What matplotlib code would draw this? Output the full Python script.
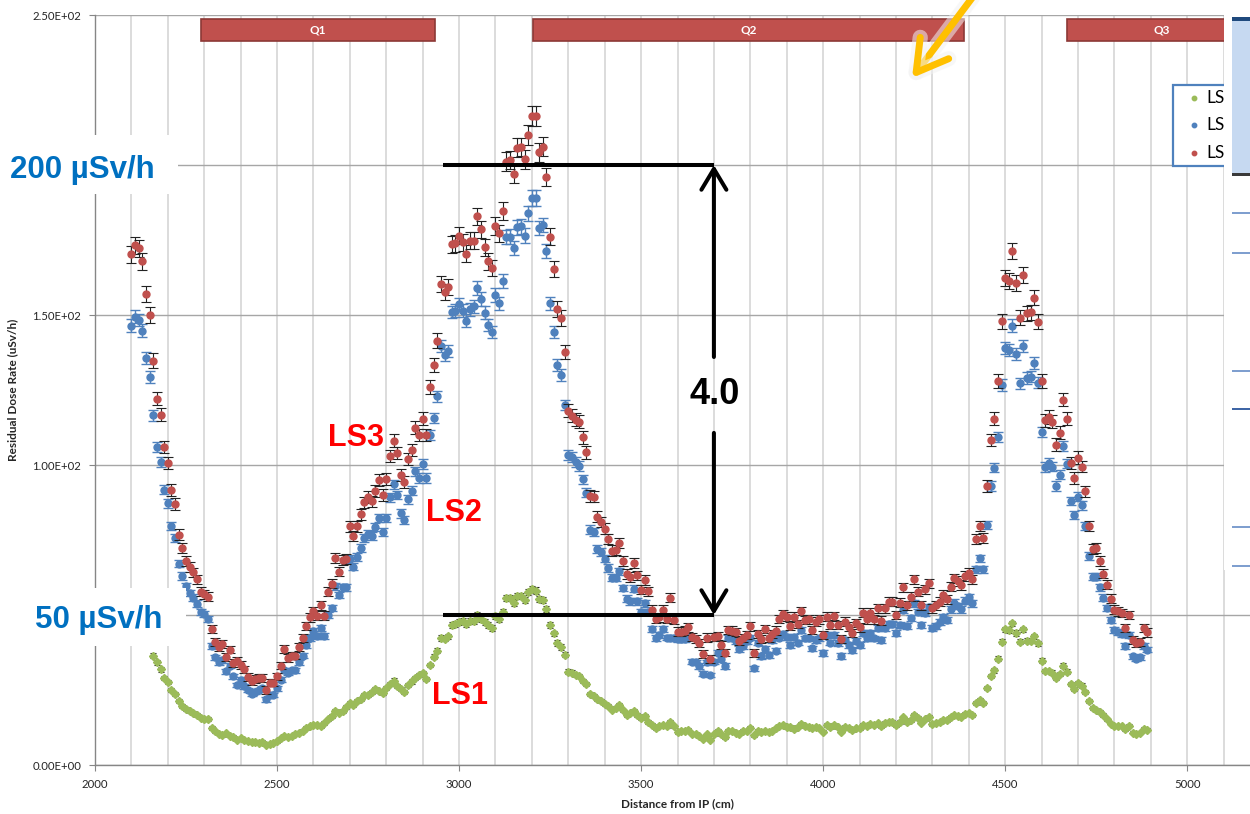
import matplotlib
matplotlib.use("Agg")
import matplotlib.pyplot as plt
from matplotlib.patches import Rectangle
from matplotlib.lines import Line2D
import matplotlib.patheffects as pe

# ---------------------------------------------------------------- data
# Residual dose rate (uSv/h) measured along the beam line, 10 cm steps
LS23_DISTANCE = list(range(2100, 4900, 10))   # cm from IP
LS1_DISTANCE = list(range(2160, 4900, 10))

LS1_DOSE = [
    36.5, 34.2, 31.9, 29.0, 27.6, 25.0, 23.8, 21.2, 19.8, 18.7, 18.1, 17.3, 16.6, 15.8, 15.4, 15.4,
    12.3, 11.2, 10.4, 10.0, 10.6, 9.7, 9.4, 8.5, 8.9, 8.3, 7.9, 7.7, 7.7, 7.5, 7.7, 6.8, 7.1, 7.4,
    7.9, 8.9, 9.8, 9.4, 9.8, 10.4, 10.8, 11.5, 12.3, 12.9, 13.4, 13.4, 12.9, 14.0, 15.2, 16.4, 18.1,
    17.5, 18.1,
    19.3, 20.7, 20.0, 21.4, 22.1, 23.3, 23.3, 24.3, 25.3, 24.7, 23.9, 25.7, 27.1, 28.1, 26.4, 25.3,
    24.3, 26.7, 27.9, 29.0, 30.0, 30.7, 28.6, 33.3, 36.1, 38.1, 42.4, 42.1, 42.9, 46.7, 47.1, 47.6,
    47.9, 47.1, 48.1, 48.1, 50.0, 48.6, 47.6, 46.7, 45.7, 49.6, 48.6, 51.1, 55.7, 55.7, 53.9, 56.4,
    56.4, 55.0, 57.6, 58.6, 58.1, 55.3, 55.0, 52.1, 46.7, 43.9, 40.7, 39.3, 36.7,
    31.1, 30.8, 30.0, 29.7, 28.0, 27.1, 23.6, 23.0, 21.9, 21.3, 20.2, 19.6, 18.5, 19.1, 20.0, 18.2,
    16.6, 17.4, 18.0, 16.6, 15.7, 16.3, 14.4, 13.5, 12.2, 12.9, 13.5, 12.9, 14.4, 12.9, 11.0, 11.3,
    11.5, 11.8, 10.4, 10.2, 9.6, 8.8, 10.2, 8.5, 10.2, 11.3, 10.2, 9.3, 11.5, 11.3, 10.7, 10.4,
    11.3, 11.5, 12.4, 9.9, 11.3, 11.0, 11.5, 11.0, 11.5, 12.2, 12.9, 13.5,
    12.6, 12.8, 11.9, 12.8, 13.7, 13.0, 12.6, 12.2, 12.8, 12.2, 11.1, 13.3, 12.6, 13.3, 12.6, 11.1,
    12.8, 12.2, 11.7, 12.2, 12.2, 13.3, 13.0, 13.7, 13.3, 13.9, 13.0, 14.1, 14.4, 14.4, 13.3, 14.4,
    15.9, 14.4, 15.0, 16.7, 15.6, 14.1, 15.2, 16.1, 13.7, 14.1, 14.4, 15.0, 15.0, 16.1, 16.7, 16.3,
    16.1, 17.0, 17.2, 16.7, 20.8, 21.7, 20.8,
    25.6, 29.6, 31.6, 35.4, 41.1, 45.2, 44.9, 47.2, 44.0, 41.1, 45.2, 41.5, 41.5, 42.9, 40.6, 34.8,
    31.3, 31.3, 30.8, 29.0, 30.4, 33.1, 31.1, 27.0, 25.3, 27.3, 26.5, 24.4, 21.2, 18.9, 18.4, 17.7,
    16.6, 15.2, 13.8, 13.1, 12.9, 12.9, 12.0, 13.1, 10.8, 10.4, 10.8, 12.0, 11.8,
]

LS2_DOSE = [
    146.5, 149.4, 148.3, 144.8, 135.6, 129.3, 116.6, 106.0, 101.0, 91.8, 87.2, 79.7, 75.7, 67.1,
    63.0, 59.6, 57.3, 55.8, 53.8, 50.9, 50.3, 48.6, 39.6, 35.9, 34.2, 35.0, 31.3, 33.1, 29.6, 26.7,
    28.5, 26.2, 25.0, 23.8, 24.4, 25.0, 25.6, 21.9, 23.3, 23.3, 25.6, 28.5, 31.6, 30.8, 31.6, 31.6,
    34.2, 36.5, 40.0, 42.3, 44.6, 42.9, 45.7, 42.9, 50.0, 52.3, 59.6, 56.7, 59.2,
    59.3, 68.6, 66.1, 69.3, 72.4, 75.7, 77.1, 76.4, 79.3, 82.4, 77.6, 82.4, 89.3, 93.6, 90.0, 83.9,
    81.7, 88.6, 91.4, 97.9, 95.7, 100.4, 95.7, 110.0, 115.7, 122.9, 139.6, 136.7, 138.1, 151.0,
    151.4, 153.6, 151.4, 148.1, 151.9, 152.9, 159.0, 155.3, 150.7, 146.7, 144.3, 156.7, 153.9,
    161.4, 176.0, 176.1, 172.4, 179.3, 179.6, 176.4, 183.9, 189.0, 189.0, 179.0, 180.0, 171.4,
    153.9, 144.3, 133.3, 130.0, 120.0,
    103.3, 102.6, 101.1, 99.7, 95.2, 90.7, 78.5, 77.7, 72.1, 71.0, 68.8, 65.7, 62.4, 62.4, 64.6,
    59.0, 55.4, 54.6, 58.7, 54.6, 50.9, 53.9, 50.9, 45.3, 42.3, 43.4, 45.3, 42.5, 42.5, 42.3, 42.0,
    42.0, 42.0, 43.1, 34.5, 34.2, 33.0, 30.5, 34.2, 30.0, 34.5, 37.5, 35.3, 33.0, 42.5, 42.3, 41.4,
    38.6, 39.7, 41.4, 42.5, 32.3, 40.8, 36.4, 38.6, 36.7, 41.6, 38.1, 42.5, 43.6,
    42.8, 40.0, 42.8, 40.8, 45.0, 42.2, 42.2, 38.9, 41.7, 42.2, 37.4, 43.3, 40.8, 43.3, 40.6, 36.3,
    41.7, 40.0, 38.3, 41.4, 40.0, 44.1, 42.2, 43.9, 42.2, 45.6, 41.7, 45.6, 47.0, 47.0, 43.9, 46.7,
    51.7, 46.3, 48.9, 53.9, 51.1, 46.7, 50.8, 52.6, 45.6, 46.3, 47.8, 49.2, 48.3, 51.9, 54.1, 53.0,
    51.9, 54.8, 55.9, 53.9, 65.2, 68.9, 65.2,
    80.0, 93.0, 99.1, 109.4, 126.7, 139.1, 138.2, 146.5, 137.1, 127.2, 139.6, 129.0, 129.5, 133.9,
    127.5, 111.1, 99.3, 100.7, 99.5, 93.0, 96.8, 106.2, 100.5, 88.0, 83.4, 89.5, 86.6, 79.7, 69.6,
    62.7, 62.7, 59.2, 55.8, 52.3, 48.4, 45.1, 44.4, 43.8, 39.6, 43.4, 36.2, 35.4, 35.9, 39.6, 38.5,
]

LS3_DOSE = [
    170.2, 173.3, 172.2, 167.9, 157.1, 150.0, 134.8, 122.1, 116.8, 105.9, 100.7, 91.6, 87.0, 76.8,
    72.2, 68.0, 65.9, 64.2, 61.9, 57.8, 56.9, 56.1, 45.4, 41.1, 39.2, 40.3, 35.9, 38.5, 33.9, 34.8,
    33.4, 31.9, 29.3, 27.9, 28.7, 29.0, 29.0, 25.0, 27.5, 27.5, 29.6, 33.1, 38.8, 35.7, 36.5, 36.5,
    39.2, 42.3, 46.3, 49.2, 51.2, 49.8, 53.2, 49.8, 57.8, 60.4, 69.0, 64.5, 68.2,
    68.6, 79.6, 76.4, 79.6, 83.6, 87.6, 89.3, 87.9, 91.4, 95.0, 90.0, 95.3, 102.9, 108.1, 103.9,
    96.7, 94.3, 102.1, 105.0, 112.4, 110.0, 115.4, 110.0, 126.1, 133.3, 141.4, 160.4, 157.6, 159.3,
    173.6, 173.9, 176.4, 174.3, 170.4, 174.7, 174.7, 182.9, 178.6, 172.6, 167.9, 165.7, 179.7,
    177.3, 184.7, 201.1, 201.7, 197.1, 205.7, 206.0, 201.9, 210.0, 216.4, 216.4, 204.3, 206.1,
    196.0, 176.1, 165.3, 152.0, 149.0, 137.6,
    118.1, 116.4, 115.1, 114.5, 109.2, 104.2, 89.7, 89.4, 82.7, 81.0, 78.8, 75.4, 71.5, 71.8, 74.1,
    68.0, 63.7, 62.6, 67.3, 63.2, 58.4, 61.7, 57.9, 51.7, 48.7, 49.2, 51.7, 48.7, 55.7, 48.3, 44.5,
    44.5, 44.8, 45.9, 42.7, 42.0, 40.8, 36.9, 42.5, 35.3, 42.7, 43.1, 40.1, 37.5, 45.1, 44.8, 44.3,
    41.4, 42.3, 43.4, 46.2, 37.2, 43.6, 42.0, 45.3, 42.5, 43.6, 44.8, 48.7, 50.3,
    49.4, 46.3, 49.4, 47.0, 51.3, 48.3, 48.6, 45.0, 47.8, 48.6, 43.3, 49.4, 46.7, 49.7, 46.7, 41.9,
    47.8, 46.1, 43.9, 47.4, 45.9, 50.8, 48.6, 50.8, 48.6, 52.2, 48.1, 52.2, 54.4, 54.4, 50.0, 54.1,
    59.2, 53.3, 56.1, 61.9, 57.8, 53.3, 58.6, 60.6, 52.2, 53.3, 54.4, 56.7, 55.2, 59.4, 62.2, 61.4,
    60.0, 63.0, 64.1, 61.9, 75.3, 79.7, 75.6,
    93.0, 108.3, 115.4, 127.9, 147.9, 162.4, 161.3, 171.3, 160.6, 149.1, 163.2, 150.6, 150.9,
    155.8, 147.7, 128.1, 114.9, 116.0, 114.5, 106.8, 110.8, 121.8, 115.4, 100.7, 95.6, 102.5, 99.5,
    91.2, 79.7, 71.9, 72.2, 68.0, 63.8, 60.1, 55.5, 51.8, 51.2, 50.7, 45.7, 50.0, 41.7, 40.6, 41.1,
    45.7, 44.2,
]

# statistical uncertainty: constant part (uSv/h) + relative part
UNC_CONST = {"LS1": 0.4, "LS2": 0.5, "LS3": 0.9}
UNC_REL = {"LS1": 0.012, "LS2": 0.011, "LS3": 0.011}

SERIES_NAMES = ["LS1", "LS2", "LS3"]

# quadrupole positions along the line
MAGNETS = ["Q1", "Q2", "Q3"]
MAGNET_START = [2291, 3203, 4670]
MAGNET_END = [2934, 4387, 5192]

X_TICKS = [2000, 2500, 3000, 3500, 4000, 4500, 5000]
Y_TICKS = [0, 50, 100, 150, 200, 250]

LEVEL_HIGH = 200     # uSv/h
LEVEL_LOW = 50       # uSv/h
LEVEL_SPAN = (2956, 3700)

# ---------------------------------------------------------------- style
GREEN, BLUE, RED = "#9bbb59", "#4f81bd", "#c0504d"
W, H = 1250, 814

plt.rcParams["font.family"] = ["Lato", "DejaVu Sans"]

fig = plt.figure(figsize=(W / 100, H / 100), dpi=100)
fig.patch.set_facecolor("white")


def fx(px):
    return px / W


def fy(py):
    return 1 - py / H


def px_rect(x0, y0, x1, y1, **kw):
    r = Rectangle((fx(x0), fy(y1)), (x1 - x0) / W, (y1 - y0) / H,
                  transform=fig.transFigure, **kw)
    fig.add_artist(r)
    return r


# axes: 2000..5200 cm maps to 95..1260 px, 0..250 maps to 765..15 px
ax = fig.add_axes([fx(95), fy(765), (1260 - 95) / W, 750 / H])
ax.set_xlim(2000, 5200)
ax.set_ylim(0, 250)

ax.set_xticks(X_TICKS)
ax.set_xticks(list(range(2100, 5200, 100)), minor=True)
ax.set_yticks(Y_TICKS)
# the 50 and 200 levels carry their own callouts instead of tick labels
ax.set_yticklabels(["" if v in (LEVEL_HIGH, LEVEL_LOW) else "%.2E" % v
                    for v in Y_TICKS])
ax.tick_params(axis="both", which="major", direction="out", length=4,
               width=0.8, color="#868686", labelsize=8.2, pad=6,
               labelcolor="#262626")
ax.tick_params(which="minor", length=0)

ax.xaxis.grid(True, which="both", color="#d9d9d9", lw=1.3, zorder=0)
ax.yaxis.grid(True, which="major", color="#a6a6a6", lw=1.0, zorder=0)
ax.set_axisbelow(True)
for s in ("top", "right"):
    ax.spines[s].set_visible(False)
for s in ("left", "bottom"):
    ax.spines[s].set_color("#868686")
    ax.spines[s].set_linewidth(1.0)

ax.set_xlabel("Distance from IP (cm)", fontsize=8.5, fontweight="bold",
              labelpad=6, color="#262626")
ax.set_ylabel("Residual Dose Rate (uSv/h)", fontsize=8.5, fontweight="bold",
              labelpad=10, color="#262626")


def unc(name, values):
    return [UNC_CONST[name] + UNC_REL[name] * v for v in values]


ax.errorbar(LS1_DISTANCE, LS1_DOSE, yerr=unc("LS1", LS1_DOSE), fmt="D",
            ms=4.2, color=GREEN, mec=GREEN, ecolor="#222222", elinewidth=0.8,
            capsize=2.5, capthick=0.8, zorder=3)
ax.errorbar(LS23_DISTANCE, LS2_DOSE, yerr=unc("LS2", LS2_DOSE), fmt="o",
            ms=5, color=BLUE, mec=BLUE, ecolor=BLUE, elinewidth=1.0,
            capsize=3.5, capthick=1.0, zorder=4)
ax.errorbar(LS23_DISTANCE, LS3_DOSE, yerr=unc("LS3", LS3_DOSE), fmt="o",
            ms=5, color=RED, mec=RED, ecolor="#222222", elinewidth=0.8,
            capsize=3.5, capthick=0.8, zorder=5)

# quadrupole bars along the top
for name, x0, x1 in zip(MAGNETS, MAGNET_START, MAGNET_END):
    ax.add_patch(Rectangle((x0, 241.3), x1 - x0, 7.4, facecolor=RED,
                           edgecolor="#8c3836", lw=1.2, zorder=6,
                           clip_on=False))
    ax.text((x0 + x1) / 2, 245.0, name, color="white", fontsize=8.5,
            fontweight="bold", ha="center", va="center", zorder=7)

# reference levels and the ratio arrow
for lvl in (LEVEL_HIGH, LEVEL_LOW):
    ax.plot(LEVEL_SPAN, [lvl, lvl], color="black", lw=2.9,
            solid_capstyle="butt", zorder=8)
arrow_x = LEVEL_SPAN[1]
ratio = LEVEL_HIGH / LEVEL_LOW
gap_top, gap_bot = 136, 110.7
head = dict(arrowstyle="->,head_length=0.5,head_width=0.3", lw=2.9,
            color="black", shrinkA=0, shrinkB=0, mutation_scale=30)
ax.annotate("", xy=(arrow_x, LEVEL_HIGH), xytext=(arrow_x, gap_top),
            arrowprops=head, zorder=8)
ax.annotate("", xy=(arrow_x, LEVEL_LOW), xytext=(arrow_x, gap_bot),
            arrowprops=head, zorder=8)
fig.text(fx(715), fy(404), f"{ratio:.1f}", fontsize=26, fontweight="bold",
         family="Liberation Sans", ha="center", va="baseline", zorder=9)

# series tags
for txt, x, y in (("LS3", 356, 446), ("LS2", 454, 521), ("LS1", 460, 704)):
    fig.text(fx(x), fy(y), txt, color="#ff0000", fontsize=22,
             fontweight="bold", family="Liberation Sans", ha="center",
             va="baseline", zorder=9)

# level callouts over the axis
px_rect(0, 135, 178, 194, facecolor="white", edgecolor="none", zorder=8)
px_rect(0, 588, 186, 646, facecolor="white", edgecolor="none", zorder=8)
fig.text(fx(82), fy(178), f"{LEVEL_HIGH} µSv/h", color="#0070c0",
         fontsize=22.5, fontweight="bold", family="Liberation Sans",
         ha="center", va="baseline", zorder=9)
fig.text(fx(99), fy(628), f"{LEVEL_LOW} µSv/h", color="#0070c0",
         fontsize=22.5, fontweight="bold", family="Liberation Sans",
         ha="center", va="baseline", zorder=9)

# legend box
px_rect(1173, 85, 1240, 166, facecolor="white", edgecolor=BLUE, lw=1.6,
        zorder=8)
for name, col, y in zip(SERIES_NAMES, (GREEN, BLUE, RED), (98, 125, 153)):
    fig.add_artist(Line2D([fx(1194)], [fy(y)], marker="o", ms=3.2,
                          color=col, transform=fig.transFigure, zorder=9))
    fig.text(fx(1206.5), fy(y), name, fontsize=12.5, color="black",
             ha="left", va="center", zorder=9)

# right-hand panel
px_rect(1223.5, 0, 1252, 570, facecolor="white", edgecolor="none", zorder=12)
px_rect(1232, 17, 1252, 175, facecolor="#c6d9f1", edgecolor="none",
        zorder=13)
px_rect(1232, 17, 1252, 21, facecolor="#1f497d", edgecolor="none", zorder=14)
px_rect(1232, 173.5, 1252, 176, facecolor="#3a3a3a", edgecolor="none",
        zorder=14)
for y, col in ((213, "#7f9fcf"), (253, "#7f9fcf"), (371, "#7f9fcf"),
               (409, "#3f66a6"), (527, "#7f9fcf"), (566, "#7f9fcf")):
    px_rect(1232, y - 1, 1252, y + 1, facecolor=col, edgecolor="none",
            zorder=14)

# pointer arrow
ax.annotate("", xy=(912, H - 78), xycoords="figure pixels",
            xytext=(984, H + 18), textcoords="figure pixels",
            arrowprops=dict(arrowstyle="->,head_length=0.55,head_width=0.32",
                            lw=5, color="#ffc000", shrinkA=0, shrinkB=0,
                            mutation_scale=40, capstyle="round",
                            joinstyle="round",
                            path_effects=[pe.withStroke(linewidth=11,
                                                        foreground="#f2f2f2",
                                                        alpha=0.55)]),
            annotation_clip=False, zorder=15)

fig.savefig("out.png", dpi=100)
